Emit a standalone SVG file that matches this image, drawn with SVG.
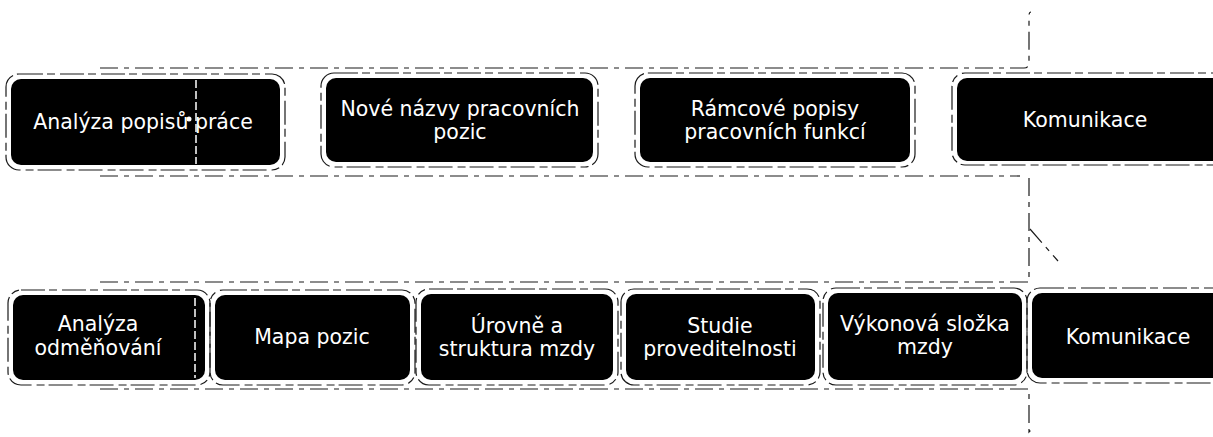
<svg xmlns="http://www.w3.org/2000/svg" width="1213" height="437" viewBox="0 0 1213 437">
<style>
.box{fill:#000;stroke:none}
.lbl{fill:#fff;font-family:"DejaVu Sans",Verdana,sans-serif;font-size:20.5px;text-anchor:middle}
.halo{fill:none;stroke:#1a1a1a;stroke-width:1.2;stroke-dasharray:24 4 8 5}
.frame{fill:none;stroke:#1a1a1a;stroke-width:1.2;stroke-dasharray:18 6 5 6}
.art{fill:none;stroke:#fff;stroke-width:1.5;stroke-dasharray:8 3}
</style>
<g id="connectors">
<path class="frame" d="M100,68 L1024,68 Q1029,68 1029,62 L1029,16 Q1029,12 1031,12"/>
<path class="frame" d="M100,176 L1020,176"/>
<path class="frame" d="M1029,178 L1029,282 L100,282"/>
<path class="frame" d="M1030,229 L1058,261"/>
<path class="frame" d="M100,389 L1029,389 L1029,432 L1033,428"/>
</g>
<g id="n1">
<rect class="halo" x="6" y="74" width="279" height="96" rx="13"/>
<rect class="box" x="11" y="79" width="269" height="86" rx="10"/>
<text class="lbl" x="143" y="129">Analýza popisů práce</text>
<line class="art" x1="196" y1="80" x2="196" y2="164"/>
<circle cx="189" cy="119" r="2.5" fill="#fff"/>
</g>
<g id="n2">
<rect class="halo" x="321" y="73" width="277" height="94" rx="13"/>
<rect class="box" x="326" y="78" width="267" height="84" rx="10"/>
<text class="lbl" x="460" y="116">Nové názvy pracovních</text>
<text class="lbl" x="460" y="139">pozic</text>
</g>
<g id="n3">
<rect class="halo" x="635" y="73" width="280" height="94" rx="13"/>
<rect class="box" x="640" y="78" width="270" height="84" rx="10"/>
<text class="lbl" x="775" y="116">Rámcové popisy</text>
<text class="lbl" x="775" y="139">pracovních funkcí</text>
</g>
<g id="n4">
<rect class="halo" x="952" y="73" width="290" height="92" rx="13"/>
<rect class="box" x="957" y="78" width="290" height="83" rx="10"/>
<text class="lbl" x="1085" y="127">Komunikace</text>
</g>
<g id="m1">
<rect class="halo" x="8" y="290" width="202" height="95" rx="13"/>
<rect class="box" x="13" y="295" width="192" height="85" rx="10"/>
<text class="lbl" x="98" y="331">Analýza</text>
<text class="lbl" x="98" y="355">odměňování</text>
<line class="art" x1="195" y1="298" x2="195" y2="378"/>
</g>
<g id="m2">
<rect class="halo" x="210" y="290" width="205" height="95" rx="13"/>
<rect class="box" x="215" y="295" width="195" height="85" rx="10"/>
<text class="lbl" x="312" y="344">Mapa pozic</text>
</g>
<g id="m3">
<rect class="halo" x="416" y="289" width="202" height="96" rx="13"/>
<rect class="box" x="421" y="294" width="192" height="86" rx="10"/>
<text class="lbl" x="517" y="333">Úrovně a</text>
<text class="lbl" x="517" y="356">struktura mzdy</text>
</g>
<g id="m4">
<rect class="halo" x="621" y="289" width="199" height="96" rx="13"/>
<rect class="box" x="626" y="294" width="189" height="86" rx="10"/>
<text class="lbl" x="720" y="333">Studie</text>
<text class="lbl" x="720" y="356">proveditelnosti</text>
</g>
<g id="m5">
<rect class="halo" x="823" y="288" width="204" height="97" rx="13"/>
<rect class="box" x="828" y="293" width="194" height="87" rx="10"/>
<text class="lbl" x="925" y="331">Výkonová složka</text>
<text class="lbl" x="925" y="354">mzdy</text>
</g>
<g id="m6">
<rect class="halo" x="1027" y="288" width="200" height="95" rx="13"/>
<rect class="box" x="1032" y="293" width="200" height="85" rx="10"/>
<text class="lbl" x="1128" y="344">Komunikace</text>
</g>
</svg>
